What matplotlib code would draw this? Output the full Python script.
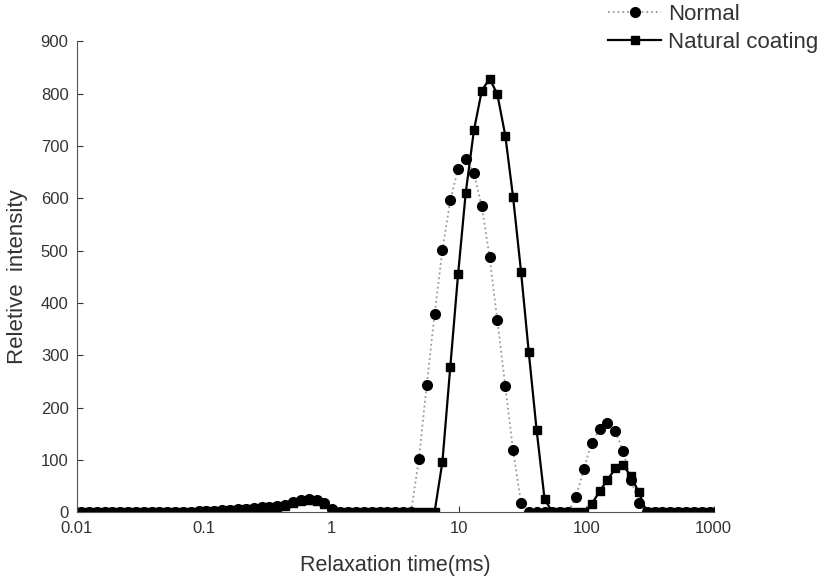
import matplotlib.pyplot as plt
from matplotlib.lines import Line2D

# Relaxation time grid (ms)
t_ms = [0.0108, 0.0124, 0.0143, 0.0165, 0.0190, 0.0219, 0.0252, 0.0291, 0.0335, 0.0386,
        0.0445, 0.0513, 0.0591, 0.0682, 0.0786, 0.0906, 0.104, 0.120, 0.139, 0.160,
        0.184, 0.212, 0.245, 0.282, 0.325, 0.375, 0.432, 0.498, 0.574, 0.662,
        0.763, 0.879, 1.01, 1.17, 1.35, 1.55, 1.79, 2.06, 2.38, 2.74,
        3.16, 3.64, 4.20, 4.84, 5.58, 6.43, 7.41, 8.54, 9.84, 11.3,
        13.1, 15.1, 17.4, 20.0, 23.1, 26.6, 30.7, 35.3, 40.7, 47.0,
        54.1, 62.4, 71.9, 82.9, 95.5, 110, 127, 146, 169, 194,
        224, 258, 298, 343, 396, 456, 526, 606, 698, 805,
        928]

normal = [0, 0, 0, 0, 0, 0, 0, 0, 0, 0,
          0, 0, 0, 0, 1, 2, 2, 3, 4, 5,
          6, 7, 8, 9, 10, 11, 14, 20, 24, 26,
          24, 18, 6, 0, 0, 0, 0, 0, 0, 0,
          0, 0, 0, 101, 243, 378, 501, 596, 657, 675,
          648, 585, 487, 367, 241, 118, 17, 0, 0, 0,
          0, 0, 0, 29, 82, 132, 159, 170, 155, 117,
          62, 18, 0, 0, 0, 0, 0, 0, 0, 0,
          0]

natural_coating = [0, 0, 0, 0, 0, 0, 0, 0, 0, 0,
                   0, 0, 0, 0, 1, 1, 2, 2, 3, 4,
                   5, 6, 7, 8, 9, 10, 12, 17, 21, 23,
                   22, 16, 5, 0, 0, 0, 0, 0, 0, 0,
                   0, 0, 0, 0, 0, 0, 96, 277, 455, 611,
                   730, 806, 829, 799, 720, 602, 460, 306, 157, 25,
                   0, 0, 0, 0, 0, 15, 40, 61, 84, 90,
                   69, 38, 0, 0, 0, 0, 0, 0, 0, 0,
                   0]

x_ticks = [0.01, 0.1, 1, 10, 100, 1000]
x_tick_labels = ['0.01', '0.1', '1', '10', '100', '1000']
y_ticks = [0, 100, 200, 300, 400, 500, 600, 700, 800, 900]

plt.rcParams['font.family'] = ['Liberation Sans', 'DejaVu Sans']

fig = plt.figure(figsize=(8.27, 5.84), dpi=100)
ax = fig.add_axes([0.093, 0.123, 0.770, 0.806])

# Normal: thin grey dotted line with black circles
ax.plot(t_ms, normal, color='#9a9a9a', linestyle=':', linewidth=1.3,
        marker='o', markersize=7, markerfacecolor='black', markeredgecolor='black')
# Natural coating: solid black line with squares
ax.plot(t_ms, natural_coating, color='black', linestyle='-', linewidth=1.6,
        marker='s', markersize=6, markerfacecolor='black', markeredgecolor='black')

ax.set_xscale('log')
ax.set_xlim(0.01, 1000)
ax.set_ylim(0, 900)
ax.set_xticks(x_ticks)
ax.set_xticklabels(x_tick_labels)
ax.minorticks_off()
ax.set_yticks(y_ticks)

ax.spines['top'].set_visible(False)
ax.spines['right'].set_visible(False)
ax.spines['left'].set_color('#555555')
ax.spines['bottom'].set_color('#555555')
ax.tick_params(direction='in', length=4, labelsize=12, colors='#333333', pad=6)

ax.set_xlabel('Relaxation time(ms)', fontsize=15.5, color='#333333', labelpad=14)
ax.set_ylabel('Reletive  intensity', fontsize=16, color='#333333', labelpad=9)

# Legend in the top right corner
handles = [
    Line2D([], [], color='#9a9a9a', linestyle=':', linewidth=1.3, marker='o',
           markersize=7, markerfacecolor='black', markeredgecolor='black'),
    Line2D([], [], color='black', linestyle='-', linewidth=1.6, marker='s',
           markersize=6, markerfacecolor='black', markeredgecolor='black'),
]
fig.legend(handles, ['Normal', 'Natural coating'], loc='upper left',
           bbox_to_anchor=(0.735, 0.993), frameon=False, fontsize=16,
           borderpad=0, borderaxespad=0, handlelength=2.4, handletextpad=0.3,
           labelspacing=0.32, numpoints=1, labelcolor='#333333')

fig.savefig('out.png', dpi=100)
